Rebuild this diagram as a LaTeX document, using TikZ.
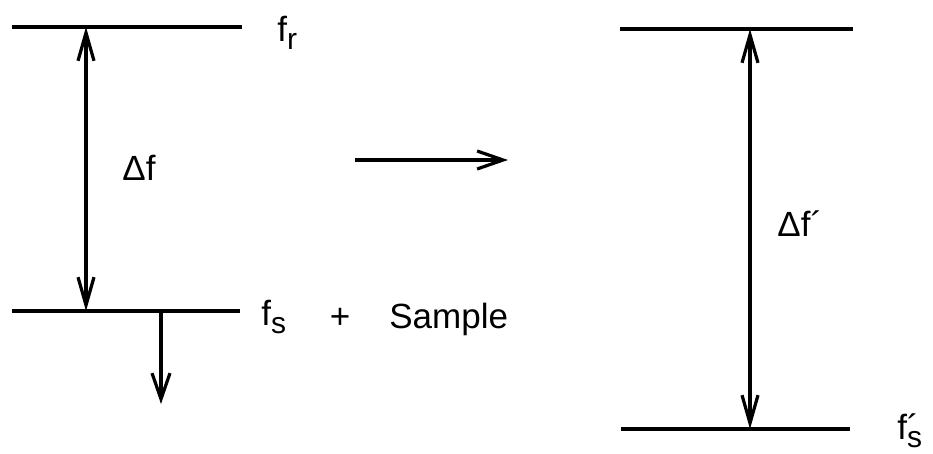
\documentclass[tikz,border=0pt]{standalone}
\usepackage{fontspec}
\setmainfont{Liberation Sans}
\usetikzlibrary{arrows.meta,positioning}
\newcommand{\lowlab}[1]{\raisebox{-0.4ex}{\fontsize{15}{15}\selectfont #1}}

\begin{document}
\begin{tikzpicture}[
  x=0.5pt,y=-0.5pt,
  every node/.style={font=\fontsize{17.5}{20}\selectfont,inner sep=0pt},
  level/.style={line width=1.6pt},
  gap/.style={line width=1.6pt,{Straight Barb[length=14pt,width=8pt]}-{Straight Barb[length=14pt,width=8pt]}},
  arr/.style={line width=1.6pt,-{Straight Barb[length=13pt,width=9pt]}}
]
\useasboundingbox (0,0) rectangle (933,454);
% left level scheme
\coordinate (rL) at (12,27);   \coordinate (rR) at (242,27);
\coordinate (sL) at (12,311);  \coordinate (sR) at (240,311);
\draw[level] (rL) -- (rR);
\draw[level] (sL) -- (sR);
\coordinate (gtop) at (86,27); \coordinate (gbot) at (86,311);
\draw[gap] (gbot) -- (gtop);
\coordinate (shift0) at (161,311); \coordinate (shift1) at (161,404);
\draw[arr] (shift0) -- (shift1);
\node[anchor=base west] (fr) at (277,42) {f\lowlab{r}};
\node[anchor=base west] (fs) at (261,326) {f\lowlab{s}};
\node (plus) at (340,318) {+};
\node[anchor=base west] (sample) at (389,329) {Sample};
\node[anchor=base west] (df) at (122,181) {Δf};
% transition
\coordinate (m0) at (355,160); \coordinate (m1) at (508,160);
\draw[arr] (m0) -- (m1);
% right level scheme
\coordinate (r2L) at (620,29);  \coordinate (r2R) at (853,29);
\coordinate (s2L) at (621,429); \coordinate (s2R) at (850,429);
\draw[level] (r2L) -- (r2R);
\draw[level] (s2L) -- (s2R);
\coordinate (g2top) at (750,29); \coordinate (g2bot) at (750,429);
\draw[gap] (g2bot) -- (g2top);
\node[anchor=base west] (df2) at (777,237) {Δf´};
\node[anchor=base west] (fs2) at (897,440) {f\rlap{´}\lowlab{s}};
\end{tikzpicture}
\end{document}
